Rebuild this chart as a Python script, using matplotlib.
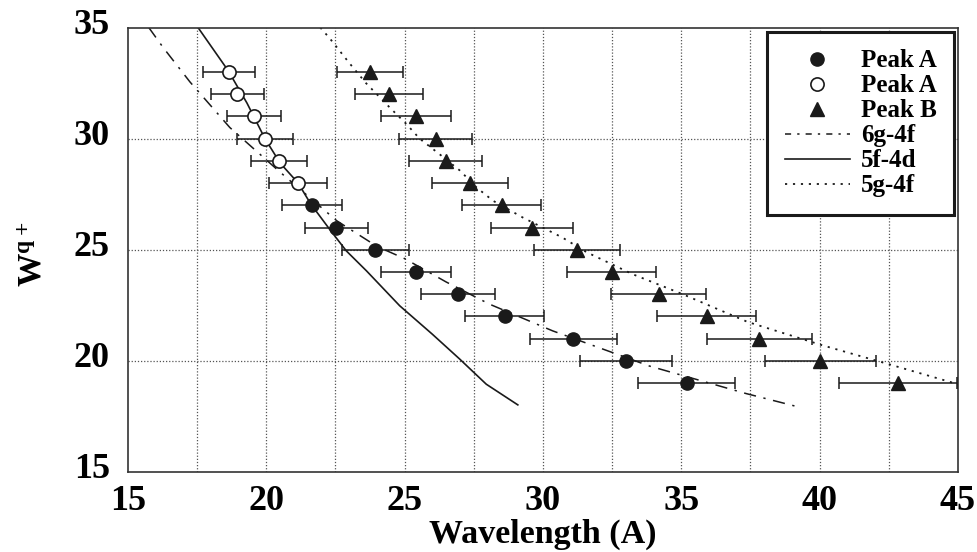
import matplotlib
matplotlib.use("Agg")
import matplotlib.pyplot as plt
import matplotlib.transforms as mtransforms
from matplotlib.lines import Line2D

plt.rcParams['font.family'] = ['Liberation Serif', 'DejaVu Serif']
plt.rcParams['font.weight'] = 'bold'
plt.rcParams['mathtext.default'] = 'regular'

# ---- data ----
# Peak A (open circles)
peakA_open_x = [18.65, 18.95, 19.56, 19.95, 20.46, 21.15]
peakA_open_y = [33, 32, 31, 30, 29, 28]
peakA_open_err = [0.93, 0.95, 0.98, 1.00, 1.02, 1.06]
# Peak A (filled circles)
peakA_x = [21.65, 22.53, 23.94, 25.42, 26.93, 28.61, 31.10, 33.00, 35.19]
peakA_y = [27, 26, 25, 24, 23, 22, 21, 20, 19]
peakA_err = [1.08, 1.13, 1.20, 1.27, 1.35, 1.43, 1.56, 1.65, 1.76]
# Peak B (triangles)
peakB_x = [23.74, 24.43, 25.42, 26.12, 26.48, 27.35, 28.51, 29.60, 31.24,
           32.48, 34.18, 35.91, 37.82, 40.02, 42.83]
peakB_y = [33, 32, 31, 30, 29, 28, 27, 26, 25, 24, 23, 22, 21, 20, 19]
peakB_err = [1.19, 1.22, 1.27, 1.31, 1.32, 1.37, 1.43, 1.48, 1.56,
             1.62, 1.71, 1.80, 1.89, 2.00, 2.14]

# Theory curves
c6g4f_x = [15.75, 16.27, 17.24, 18.68, 20.49, 22.55, 24.0, 25.0, 26.5, 28.07,
           30.35, 32.52, 33.84, 37.34, 39.1]
c6g4f_y = [35.0, 34.1, 32.55, 30.5, 28.5, 26.3, 25.15, 24.6, 23.55, 22.55,
           21.35, 20.37, 19.77, 18.53, 17.97]
c5f4d_x = [17.53, 18.62, 19.3, 19.95, 20.5, 21.15, 21.6, 22.3, 22.89, 23.62,
           24.82, 26.0, 26.99, 27.95, 29.09]
c5f4d_y = [35.0, 33.06, 31.6, 30.0, 28.9, 28.0, 27.07, 25.9, 24.95, 24.05,
           22.48, 21.2, 20.08, 18.95, 18.02]
c5g4f_x = [21.95, 22.3, 23.0, 23.6, 24.46, 25.06, 25.54, 26.26, 27.0, 27.6,
           28.2, 29.27, 30.7, 31.56, 33.24, 35.05, 37.4, 40.1, 42.5, 45.0]
c5g4f_y = [35.0, 34.5, 33.4, 32.5, 31.4, 30.66, 30.0, 29.3, 28.56, 27.8,
           27.2, 26.45, 25.55, 24.9, 23.9, 23.0, 21.75, 20.7, 19.85, 18.95]

x_ticks = [15, 20, 25, 30, 35, 40, 45]
y_ticks = [15, 20, 25, 30, 35]
legend_labels = ['Peak A', 'Peak A', 'Peak B', '6g-4f', '5f-4d', '5g-4f']

# ---- figure ----
fig = plt.figure(figsize=(9.78, 5.52), dpi=100)
ax = fig.add_axes([128/978, 1 - 472/552, (958-128)/978, (472-27.5)/552])

ink = '#1a1a1a'
grid_kw = dict(color='#555555', lw=0.9, linestyle=(0, (1, 1.5)), zorder=1)
for gx in [17.5, 20, 22.5, 25, 27.5, 30, 32.5, 35, 37.5, 40, 42.5]:
    ax.axvline(gx, **grid_kw)
for gy in [20, 25, 30]:
    ax.axhline(gy, **grid_kw)

ax.plot(c6g4f_x, c6g4f_y, color=ink, lw=1.1, linestyle=(0, (8, 5, 1.5, 5)), zorder=2)
ax.plot(c5f4d_x, c5f4d_y, color=ink, lw=1.2, linestyle='-', zorder=2)
ax.plot(c5g4f_x, c5g4f_y, color=ink, lw=1.3, linestyle=(0, (1.2, 3.2)), zorder=2)

eb_kw = dict(fmt='none', ecolor=ink, elinewidth=1.1, capsize=4, capthick=1.1, zorder=3)
ax.errorbar(peakA_x, peakA_y, xerr=peakA_err, **eb_kw)
ax.errorbar(peakA_open_x, peakA_open_y, xerr=peakA_open_err, **eb_kw)
ax.errorbar(peakB_x, peakB_y, xerr=peakB_err, **eb_kw)

ax.plot(peakA_x, peakA_y, 'o', ms=9.5, color=ink, zorder=4)
ax.plot(peakA_open_x, peakA_open_y, 'o', ms=9.5, mfc='white', mec=ink, mew=1.2, zorder=4)
ax.plot(peakB_x, peakB_y, '^', ms=10, color=ink, zorder=4)

ax.set_xlim(15, 45)
ax.set_ylim(15, 35)
ax.set_xticks(x_ticks)
ax.set_yticks(y_ticks)
ax.tick_params(axis='both', direction='in', length=0, labelsize=26)
ax.tick_params(axis='x', pad=9)
ax.tick_params(axis='y', pad=13)
for lab in ax.get_xticklabels() + ax.get_yticklabels():
    lab.set_fontweight('bold')
shift_up = mtransforms.ScaledTranslation(0, 4.5/72, fig.dpi_scale_trans)
for lab in ax.get_yticklabels():
    lab.set_transform(lab.get_transform() + shift_up)
for sp in ax.spines.values():
    sp.set_linewidth(1.2)
    sp.set_color('#333333')

ax.set_xlabel('Wavelength (A)', fontsize=24.5, fontweight='bold', labelpad=1)
ax.set_ylabel('W$^{q+}$', fontsize=24, fontweight='bold')
ax.yaxis.set_label_coords(-0.096, 0.49)

handles = [
    Line2D([], [], marker='o', ls='none', ms=9.5, color=ink),
    Line2D([], [], marker='o', ls='none', ms=9.5, mfc='white', mec=ink, mew=1.2),
    Line2D([], [], marker='^', ls='none', ms=10, color=ink),
    Line2D([], [], color=ink, lw=1.1, linestyle=(0, (4, 4, 1.5, 4))),
    Line2D([], [], color=ink, lw=1.2, linestyle='-'),
    Line2D([], [], color=ink, lw=1.3, linestyle=(0, (1.2, 3.2))),
]
leg = ax.legend(handles, legend_labels, loc='upper right', bbox_to_anchor=(0.9955, 0.99),
                prop={'family': 'Liberation Serif', 'weight': 'bold', 'size': 18},
                frameon=True, fancybox=False, edgecolor=ink, framealpha=1,
                handlelength=2.6, handletextpad=0.45, labelspacing=0.08,
                borderpad=0.7, borderaxespad=0)
leg.get_frame().set_linewidth(2.2)
leg.set_zorder(5)

fig.savefig('out.png', dpi=100)
